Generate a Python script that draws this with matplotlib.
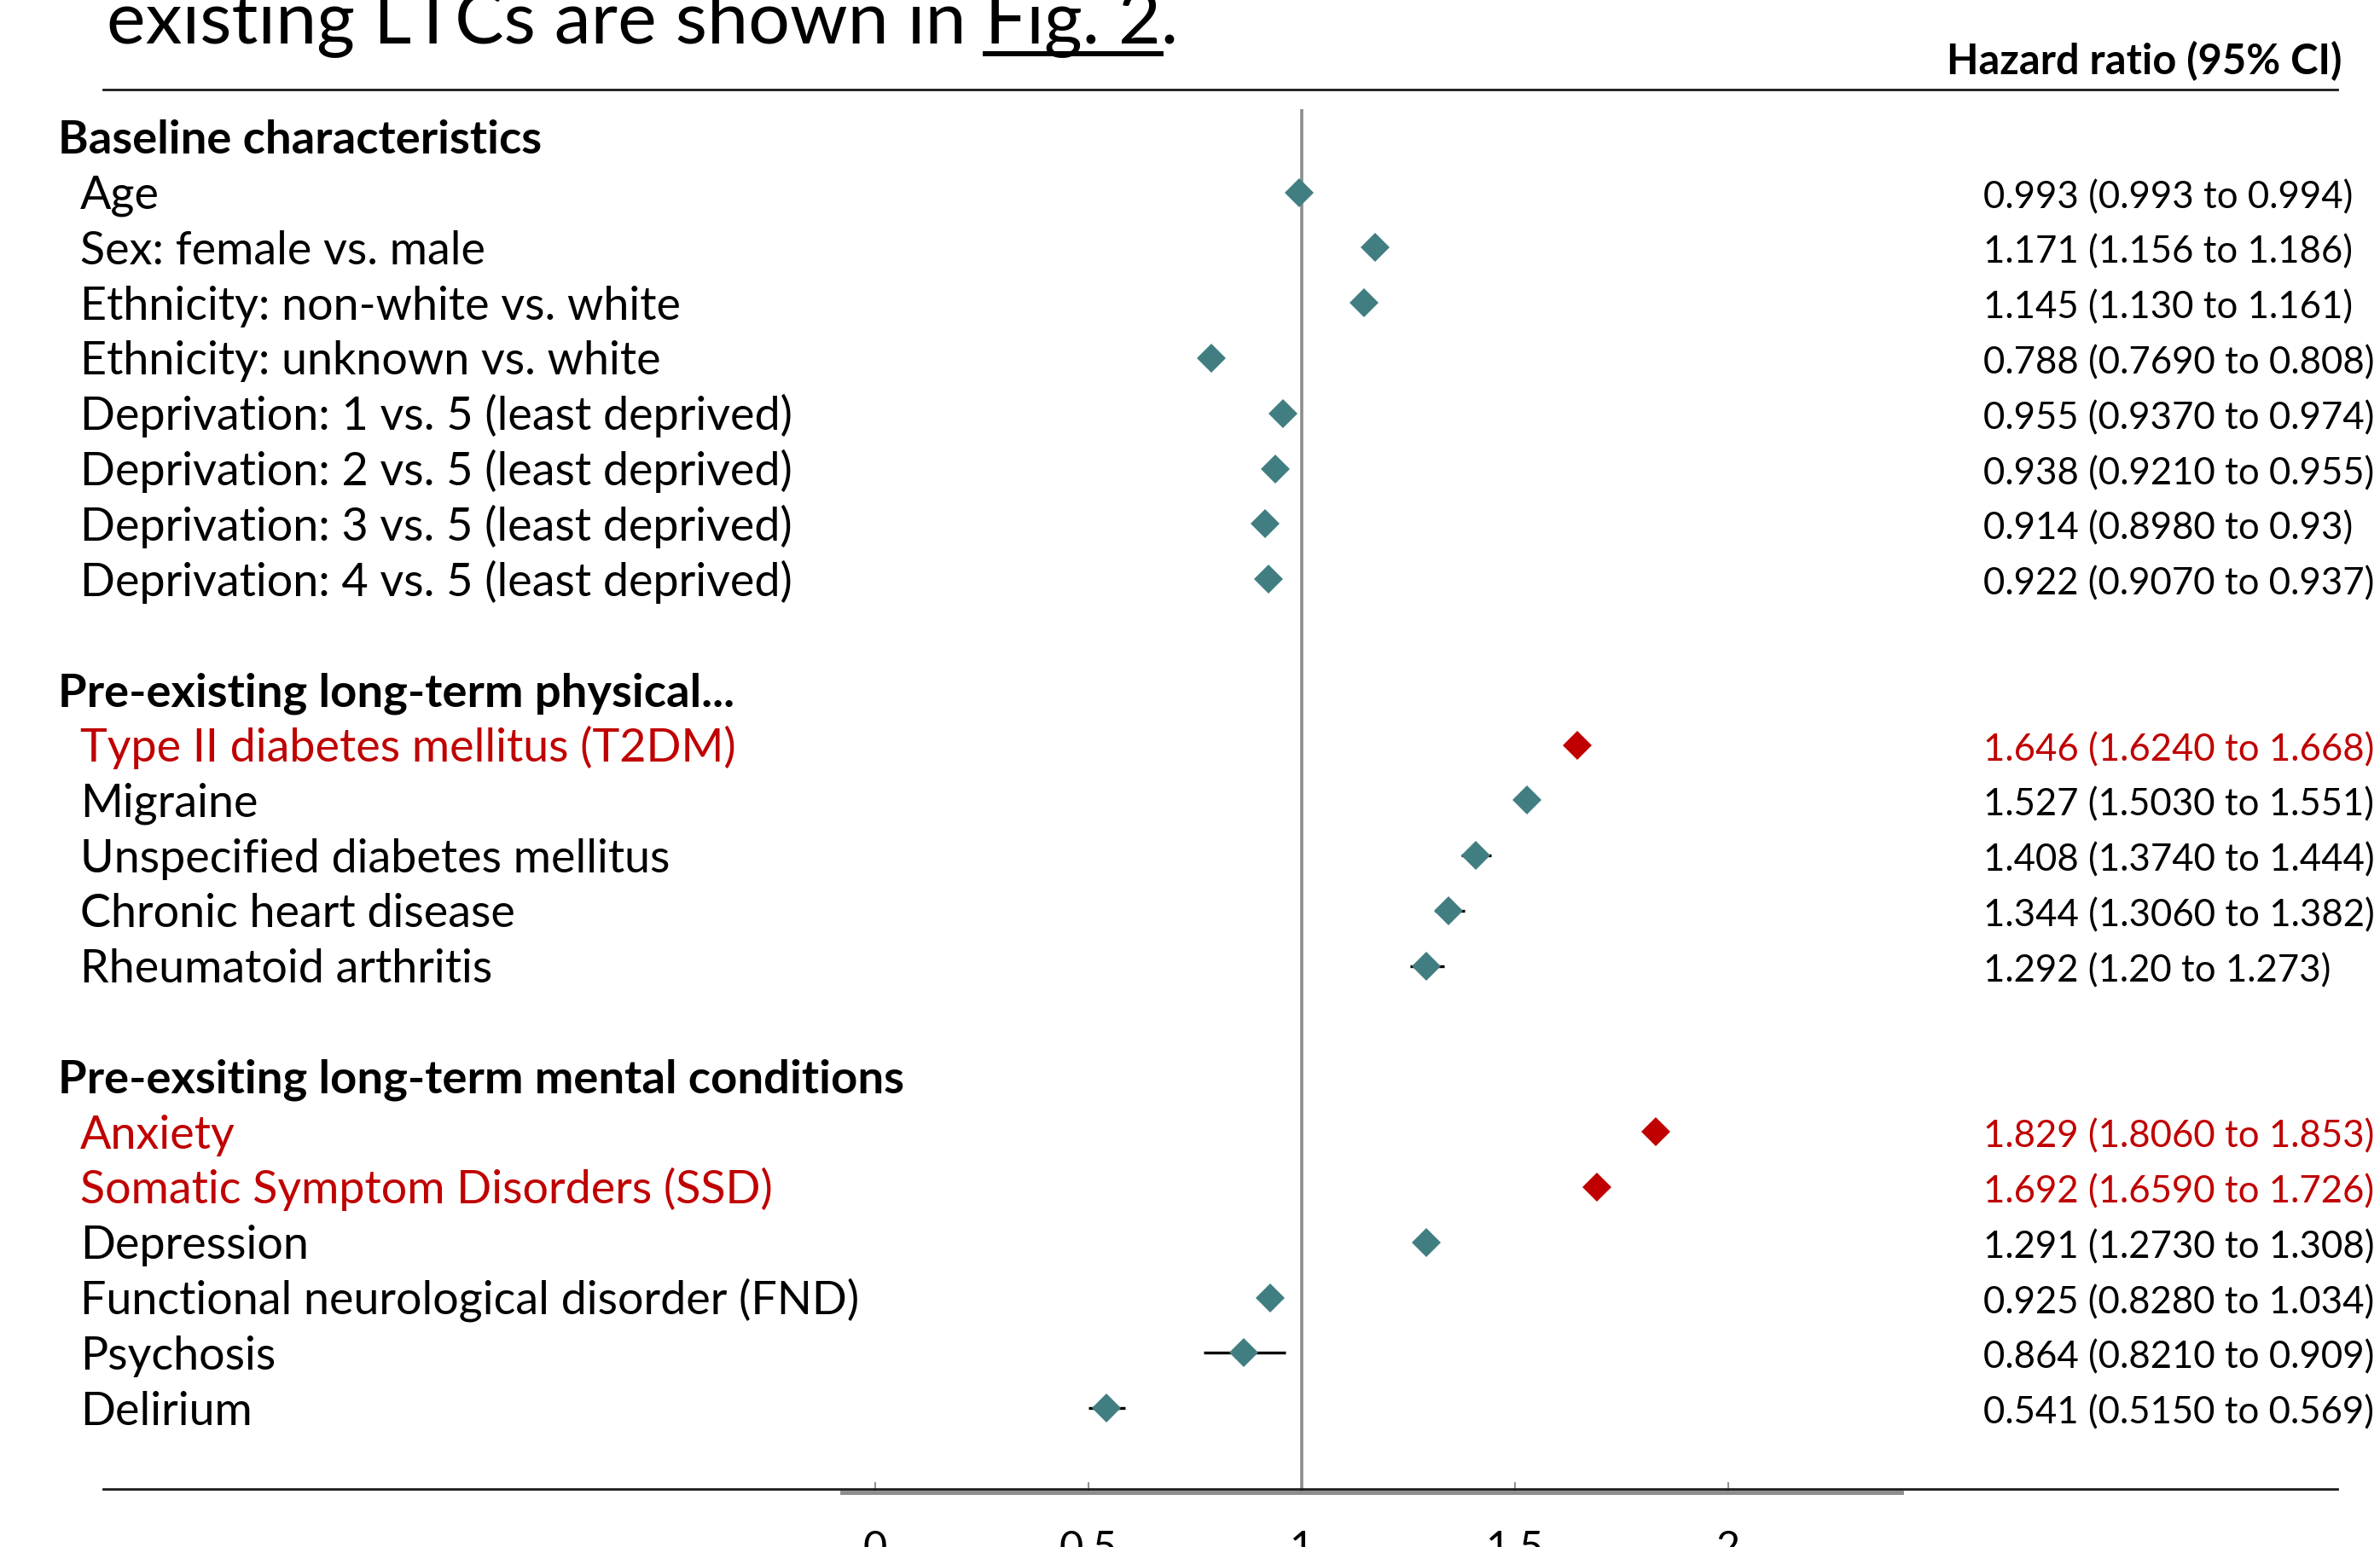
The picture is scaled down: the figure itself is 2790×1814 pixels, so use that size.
import matplotlib
matplotlib.use('Agg')
import matplotlib.pyplot as plt
from matplotlib.lines import Line2D
from matplotlib.transforms import blended_transform_factory

# ---- data ----
group_titles = ["Baseline characteristics",
                "Pre-existing long-term physical...",
                "Pre-exsiting long-term mental conditions"]

labels = ["Age",
          "Sex: female vs. male",
          "Ethnicity: non-white vs. white",
          "Ethnicity: unknown vs. white",
          "Deprivation: 1 vs. 5 (least deprived)",
          "Deprivation: 2 vs. 5 (least deprived)",
          "Deprivation: 3 vs. 5 (least deprived)",
          "Deprivation: 4 vs. 5 (least deprived)",
          "Type II diabetes mellitus (T2DM)",
          "Migraine",
          "Unspecified diabetes mellitus",
          "Chronic heart disease",
          "Rheumatoid arthritis",
          "Anxiety",
          "Somatic Symptom Disorders (SSD)",
          "Depression",
          "Functional neurological disorder (FND)",
          "Psychosis",
          "Delirium"]
group_of = [0] * 8 + [1] * 5 + [2] * 6

hr = [0.993, 1.171, 1.145, 0.788, 0.955, 0.938, 0.914, 0.922,
      1.646, 1.527, 1.408, 1.344, 1.292,
      1.829, 1.692, 1.291, 0.925, 0.864, 0.541]

# whisker ends as drawn in the plot
ci_lo = [0.993, 1.156, 1.130, 0.769, 0.937, 0.921, 0.898, 0.907,
         1.624, 1.503, 1.374, 1.312, 1.254,
         1.806, 1.665, 1.273, 0.905, 0.770, 0.499]
ci_hi = [0.994, 1.186, 1.161, 0.808, 0.974, 0.955, 0.930, 0.937,
         1.668, 1.551, 1.444, 1.382, 1.334,
         1.853, 1.720, 1.308, 0.945, 0.962, 0.585]

hr_text = ["0.993 (0.993 to 0.994)", "1.171 (1.156 to 1.186)",
           "1.145 (1.130 to 1.161)", "0.788 (0.7690 to 0.808)",
           "0.955 (0.9370 to 0.974)", "0.938 (0.9210 to 0.955)",
           "0.914 (0.8980 to 0.93)", "0.922 (0.9070 to 0.937)",
           "1.646 (1.6240 to 1.668)", "1.527 (1.5030 to 1.551)",
           "1.408 (1.3740 to 1.444)", "1.344 (1.3060 to 1.382)",
           "1.292 (1.20 to 1.273)", "1.829 (1.8060 to 1.853)",
           "1.692 (1.6590 to 1.726)", "1.291 (1.2730 to 1.308)",
           "0.925 (0.8280 to 1.034)", "0.864 (0.8210 to 0.909)",
           "0.541 (0.5150 to 0.569)"]

highlight = ["Type II diabetes mellitus (T2DM)", "Anxiety",
             "Somatic Symptom Disorders (SSD)"]

x_ticks = [0, 0.5, 1, 1.5, 2]
x_tick_labels = ["0", "0.5", "1", "1.5", "2"]

# ---- layout ----
W, H = 2790, 1814
DPI = 100
TEAL = '#417e82'
RED = '#c00000'
GREY = '#8c8c8c'
FS_LAB = 38.8
FS_HEAD = 39.2
FS_VAL = 31.5


def fx(x):
    return x / W


def fy(y):
    return 1 - y / H


plt.rcParams['font.family'] = ['Lato', 'DejaVu Sans']

# rows: header, items, blank line, per group
group_rows = []
item_rows = []
r = 0
for g in range(len(group_titles)):
    group_rows.append(r)
    r += 1
    for gi in group_of:
        if gi == g:
            item_rows.append(r)
            r += 1
    r += 1

row0_px, step_px = 160.7, 64.8
ax_top_px, ax_bot_px = 128, 1749.5

fig = plt.figure(figsize=(W / DPI, H / DPI), dpi=DPI)
ax = fig.add_axes([fx(987), fy(ax_bot_px), fx(2229) - fx(987), fy(ax_top_px) - fy(ax_bot_px)])
ax.set_xlim(-0.078, 2.406)
ax.set_ylim((ax_bot_px - row0_px) / step_px, (ax_top_px - row0_px) / step_px)

ax.axvline(1, color=GREY, lw=2.6, zorder=1)

for i, lab in enumerate(labels):
    y = item_rows[i]
    c = RED if lab in highlight else TEAL
    ax.plot([ci_lo[i], ci_hi[i]], [y, y], color='black', lw=2.4,
            solid_capstyle='butt', zorder=2)
    ax.plot(hr[i], y, marker='D', ms=17, color=c, mew=0, zorder=3)

for s in ['left', 'right', 'top']:
    ax.spines[s].set_visible(False)
ax.spines['bottom'].set_color(GREY)
ax.spines['bottom'].set_linewidth(3.5)
ax.set_yticks([])
ax.set_xticks(x_ticks)
ax.set_xticklabels(x_tick_labels)
ax.tick_params(axis='x', direction='in', length=8.6, width=1.4, color=GREY,
               pad=32, labelsize=35)

# text columns
trans = blended_transform_factory(fig.transFigure, ax.transData)
base_lab = 19.5 / step_px
base_val = 18.5 / step_px
for g, t in enumerate(group_titles):
    ax.text(fx(68), group_rows[g] + base_lab, t, transform=trans, fontsize=FS_HEAD,
            fontweight='bold', va='baseline', ha='left', clip_on=False)
for i, lab in enumerate(labels):
    c = RED if lab in highlight else 'black'
    ax.text(fx(94), item_rows[i] + base_lab, lab, transform=trans, fontsize=FS_LAB,
            color=c, va='baseline', ha='left', clip_on=False)
    ax.text(fx(2325), item_rows[i] + base_val, hr_text[i], transform=trans,
            fontsize=FS_VAL, color=c, va='baseline', ha='left', clip_on=False)

fig.text(fx(2745), fy(87), "Hazard ratio (95% CI)", fontsize=35.2,
         fontweight='bold', ha='right', va='baseline')

# rules above and below the table
fig.add_artist(Line2D([fx(121), fx(2740)], [fy(105), fy(105)],
                      transform=fig.transFigure, color='#1a1a1a', lw=2))
fig.add_artist(Line2D([fx(121), fx(2740)], [fy(1746), fy(1746)],
                      transform=fig.transFigure, color='#1a1a1a', lw=2, zorder=5))

# cropped sentence from the page above the figure
FS_TOP = 62
head = "existing LTCs are shown in "
link = "Fig. 2"
fig.text(fx(125), fy(50), head + link + ".", fontsize=FS_TOP, ha='left', va='baseline')
fig.canvas.draw()
rend = fig.canvas.get_renderer()


def text_w(s):
    t = fig.text(0, 0, s, fontsize=FS_TOP)
    w = t.get_window_extent(rend).width
    t.remove()
    return w


w_full = text_w(head + link + ".")
w_tail = text_w(link + ".")
w_link = text_w(link)
x_start = 125 + w_full - w_tail
fig.add_artist(Line2D([fx(x_start), fx(x_start + w_link)], [fy(63), fy(63)],
                      transform=fig.transFigure, color='black', lw=4.3))

fig.savefig('out.png', dpi=DPI)
